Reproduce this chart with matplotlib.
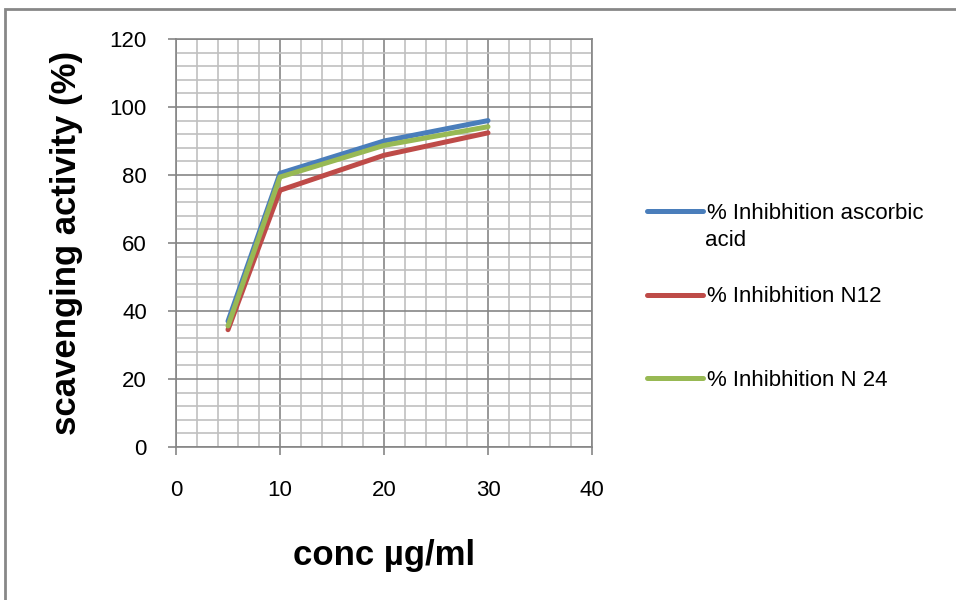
import matplotlib
matplotlib.use('Agg')
import matplotlib.pyplot as plt
import matplotlib.patches as patches
from matplotlib.ticker import MultipleLocator

# data
conc = [5, 10, 20, 30]
ascorbic = [37.0, 80.5, 90.0, 96.0]
n12 = [34.5, 75.5, 85.8, 92.4]
n24 = [35.6, 79.4, 88.7, 94.2]
labels = ["% Inhibhition ascorbic", "% Inhibhition N12", "% Inhibhition N 24"]
wrap = "acid"
colors = ["#4A7EBB", "#BE4B48", "#98B954"]

plt.rcParams['font.family'] = ['Liberation Sans', 'DejaVu Sans']

fig = plt.figure(figsize=(9.56, 6.0), dpi=100)
ax = fig.add_axes([176/956, 1-447/600, 416/956, 408/600])

for y, c, lab in zip([ascorbic, n12, n24], colors, labels):
    ax.plot(conc, y, color=c, lw=3.6, label=lab, solid_capstyle='round', solid_joinstyle='round')

ax.set_xlim(0, 40)
ax.set_ylim(0, 120)
ax.xaxis.set_major_locator(MultipleLocator(10))
ax.xaxis.set_minor_locator(MultipleLocator(2))
ax.yaxis.set_major_locator(MultipleLocator(20))
ax.yaxis.set_minor_locator(MultipleLocator(4))
ax.grid(which='major', color='#868686', lw=1.2)
ax.grid(which='minor', color='#C0C0C0', lw=1.2)
ax.set_axisbelow(True)
ax.tick_params(which='major', length=6, width=1.2, color='#868686', labelsize=16)
ax.tick_params(axis='x', pad=18)
ax.tick_params(axis='y', pad=15)
ax.tick_params(which='minor', length=0)
for s in ax.spines.values():
    s.set_color('#868686')
    s.set_linewidth(1.2)

ax.set_xlabel("conc µg/ml", fontsize=25, fontweight='bold', labelpad=27)
ax.set_ylabel("scavenging activity (%)", fontsize=25, fontweight='bold', labelpad=19)

leg = fig.legend(loc='upper left', bbox_to_anchor=(636/956, 1-192/600), frameon=False,
                 fontsize=16, handlelength=2.5, handletextpad=0.2, labelspacing=2.8,
                 borderpad=0)
fig.text(705/956, 1-241/600, wrap, fontsize=16, va='center', ha='left')

# outer chart frame
fig.add_artist(patches.Rectangle((5/956, -0.1), 1.2, 1.1 - 9/600, transform=fig.transFigure,
                                 fill=False, edgecolor='#878787', lw=2))

fig.savefig("out.png", dpi=100)
